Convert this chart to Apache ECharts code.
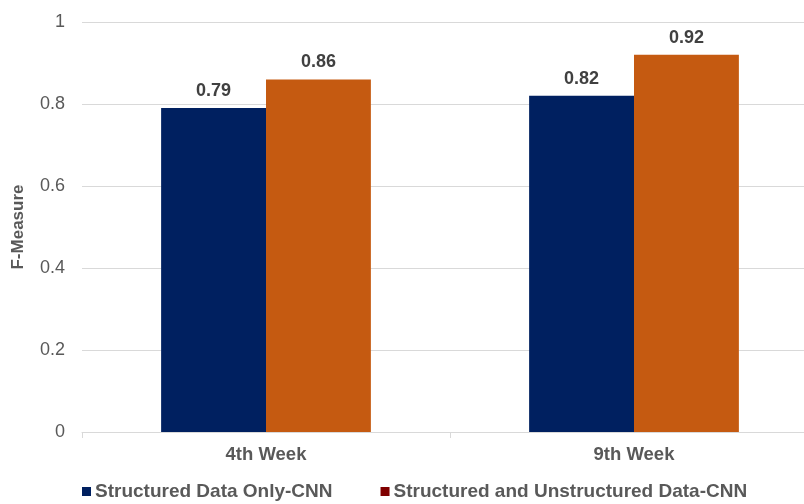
<!DOCTYPE html>
<html>
<head>
<meta charset="utf-8">
<script src="https://cdn.jsdelivr.net/npm/echarts@6/dist/echarts.min.js"></script>
<style>
  html, body { margin: 0; padding: 0; background: #fff; overflow: hidden; }
  /* the plot runs a little past the right edge of the window */
  #chart { width: 818px; height: 504px; }
</style>
</head>
<body>
<div id="chart"></div>
<script>
// Chart data
const categories = ['4th Week', '9th Week'];
const seriesNames = ['Structured Data Only-CNN', 'Structured and Unstructured Data-CNN'];
const structuredOnly = [0.79, 0.82];
const structuredAndUnstructured = [0.86, 0.92];
const yTicks = [0, 0.2, 0.4, 0.6, 0.8, 1];

const FONT = '"Liberation Sans", Arial, sans-serif';
const barColors = ['#002060', '#C55A11'];
const legendColors = ['#002060', '#800000'];

const chart = echarts.init(document.getElementById('chart'), null, { renderer: 'canvas' });

const labelStyle = {
  show: true,
  position: 'top',
  distance: 8,
  fontFamily: FONT,
  fontSize: 18,
  fontWeight: 'bold',
  color: '#404040',
  formatter: p => p.value.toFixed(2)
};

chart.setOption({
  animation: false,
  backgroundColor: '#ffffff',
  textStyle: { fontFamily: FONT },
  grid: { left: 82, top: 22, right: 0, height: 410, containLabel: false },
  legend: {
    left: 82,
    bottom: 3,
    padding: 0,
    itemWidth: 9,
    itemHeight: 9,
    itemGap: 48,
    icon: 'rect',
    textStyle: { fontFamily: FONT, fontSize: 19, fontWeight: 'bold', color: '#595959', padding: [0, 0, 0, -1] },
    data: seriesNames.map((n, i) => ({ name: n, itemStyle: { color: legendColors[i] } }))
  },
  xAxis: {
    type: 'category',
    data: categories,
    axisLine: { show: true, lineStyle: { color: '#d9d9d9', width: 1 } },
    axisTick: { show: true, alignWithLabel: false, length: 6, lineStyle: { color: '#d9d9d9' } },
    axisLabel: { fontFamily: FONT, fontSize: 18.5, fontWeight: 'bold', color: '#595959', margin: 13 }
  },
  yAxis: {
    type: 'value',
    min: yTicks[0],
    max: yTicks[yTicks.length - 1],
    interval: 0.2,
    name: 'F-Measure',
    nameLocation: 'middle',
    nameGap: 55,
    nameRotate: 90,
    nameTextStyle: { fontFamily: FONT, fontSize: 17, fontWeight: 'bold', color: '#595959' },
    axisLine: { show: false },
    axisTick: { show: false },
    splitLine: { lineStyle: { color: '#d9d9d9', width: 1 } },
    axisLabel: {
      fontFamily: FONT, fontSize: 18, color: '#595959', margin: 17,
      formatter: v => (yTicks.includes(Math.round(v * 10) / 10) ? String(Math.round(v * 10) / 10) : '')
    }
  },
  series: [
    {
      name: seriesNames[0],
      type: 'bar',
      data: structuredOnly,
      barWidth: '28.5%',
      barGap: '0%',
      itemStyle: { color: barColors[0] },
      label: labelStyle
    },
    {
      name: seriesNames[1],
      type: 'bar',
      data: structuredAndUnstructured,
      barWidth: '28.5%',
      barGap: '0%',
      itemStyle: { color: barColors[1] },
      label: labelStyle
    }
  ]
});
</script>
</body>
</html>
